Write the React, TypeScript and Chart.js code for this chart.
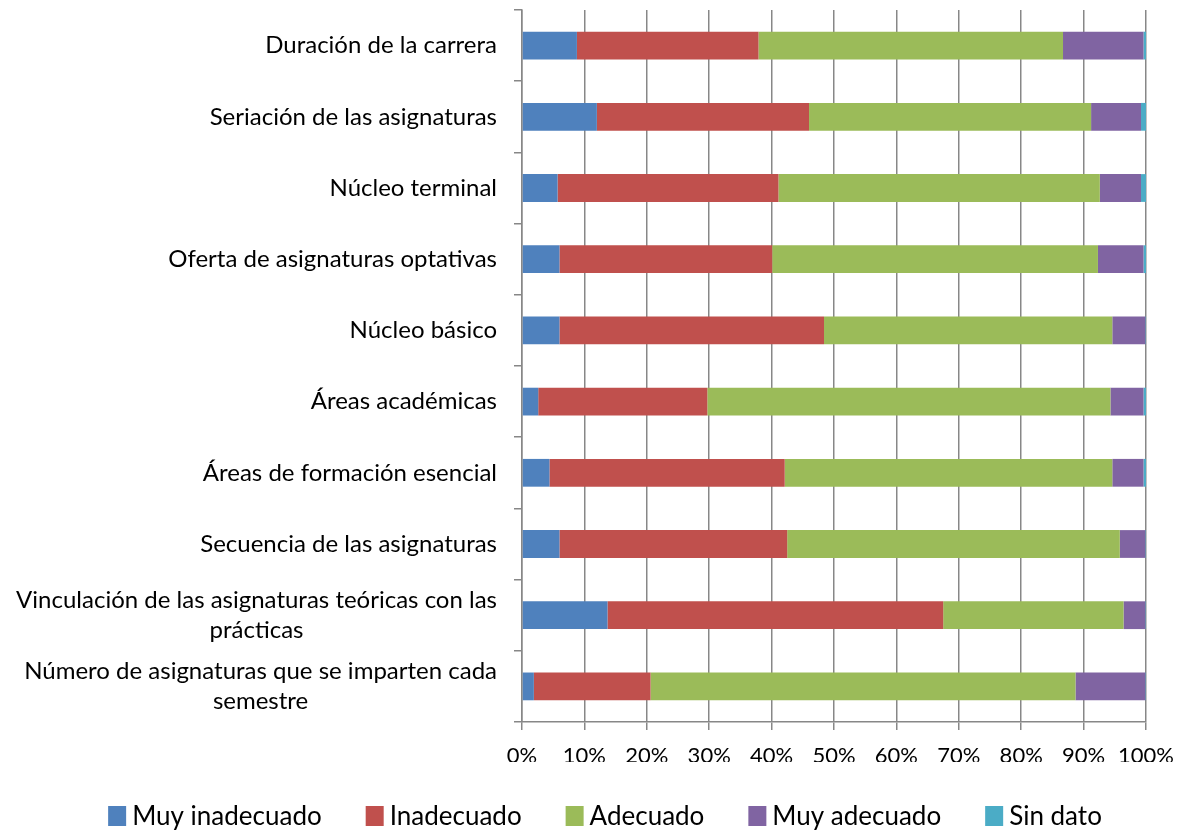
import React, { useEffect, useRef } from "react";
import { Chart, registerables } from "chart.js";

Chart.register(...registerables);

const categories: (string | string[])[] = [
  "Duración de la carrera",
  "Seriación de las asignaturas",
  "Núcleo terminal",
  "Oferta de asignaturas optativas",
  "Núcleo básico",
  "Áreas académicas",
  "Áreas de formación esencial",
  "Secuencia de las asignaturas",
  ["Vinculación de las asignaturas teóricas con las", "prácticas"],
  ["Número de asignaturas que se imparten cada", "semestre"],
];

const seriesNames = ["Muy inadecuado", "Inadecuado", "Adecuado", "Muy adecuado", "Sin dato"];
const seriesColors = ["#4F81BD", "#C0504D", "#9BBB59", "#8064A2", "#4BACC6"];

const muyInadecuado = [8.8, 12.0, 5.7, 6.0, 6.0, 2.6, 4.4, 6.0, 13.7, 1.9];
const inadecuado = [29.1, 34.0, 35.4, 34.1, 42.4, 27.1, 37.7, 36.5, 53.8, 18.7];
const adecuado = [48.8, 45.2, 51.5, 52.2, 46.2, 64.6, 52.5, 53.3, 28.9, 68.1];
const muyAdecuado = [12.9, 8.0, 6.6, 7.3, 5.3, 5.3, 5.0, 4.1, 3.5, 11.2];
const sinDato = [0.4, 0.8, 0.8, 0.4, 0.1, 0.4, 0.4, 0.1, 0.1, 0.1];

const xTicks = [0, 10, 20, 30, 40, 50, 60, 70, 80, 90, 100];

const FONT = "Lato";
const GRID = "#878787";

const yLabelPlugin = {
  id: "yLabelPlugin",
  afterDraw(chart: any) {
    const ctx = chart.ctx;
    const yScale = chart.scales.y;
    const right = chart.chartArea.left - 25;
    ctx.save();
    ctx.font = `24px ${FONT}`;
    ctx.fillStyle = "#000";
    ctx.textBaseline = "middle";
    ctx.textAlign = "center";
    const labels = chart.data.labels as (string | string[])[];
    labels.forEach((lab, i) => {
      const lines = Array.isArray(lab) ? lab : [lab];
      const w = Math.max(...lines.map((l) => ctx.measureText(l).width));
      const cx = right - w / 2;
      const yc = yScale.getPixelForValue(i);
      lines.forEach((l, j) => {
        ctx.fillText(l, cx, yc + (j - (lines.length - 1) / 2) * 30);
      });
    });
    ctx.restore();
  },
};

const legendPlugin = {
  id: "customLegend",
  afterDraw(chart: any) {
    const ctx = chart.ctx;
    ctx.save();
    ctx.font = `26px ${FONT}`;
    ctx.textBaseline = "middle";
    ctx.textAlign = "left";
    const boxW = 18;
    const boxH = 20;
    const gap = 6;
    const itemGap = 44;
    const items = chart.data.datasets.map((ds: any) => ({
      text: ds.label as string,
      color: ds.backgroundColor as string,
      w: boxW + gap + ctx.measureText(ds.label).width,
    }));
    const total = items.reduce((s: number, it: any) => s + it.w, 0) + itemGap * (items.length - 1);
    let x = 605 - total / 2;
    const yc = 816;
    items.forEach((it: any) => {
      ctx.fillStyle = it.color;
      ctx.fillRect(x, yc - boxH / 2, boxW, boxH);
      ctx.fillStyle = "#000";
      ctx.fillText(it.text, x + boxW + gap, yc + 1);
      x += it.w + itemGap;
    });
    ctx.restore();
  },
};

export default function App() {
  const ref = useRef<HTMLCanvasElement>(null);
  useEffect(() => {
    if (!ref.current) return;
    const data = [muyInadecuado, inadecuado, adecuado, muyAdecuado, sinDato];
    const chart = new Chart(ref.current, {
      type: "bar",
      data: {
        labels: categories,
        datasets: data.map((d, i) => ({
          label: seriesNames[i],
          data: d,
          backgroundColor: seriesColors[i],
          borderWidth: 0,
          barPercentage: 0.39,
          categoryPercentage: 1,
        })),
      },
      options: {
        indexAxis: "y",
        animation: false,
        responsive: false,
        devicePixelRatio: 1,
        layout: { padding: { left: 32, top: 10, right: 32, bottom: 69 } },
        plugins: {
          tooltip: { enabled: false },
          legend: { display: false },
        },
        scales: {
          x: {
            stacked: true,
            min: 0,
            max: 100,
            afterBuildTicks: (scale: any) => {
              scale.ticks = xTicks.map((v) => ({ value: v }));
            },
            afterFit: (scale: any) => {
              scale.height = 40;
              scale.paddingLeft = 0;
              scale.paddingRight = 0;
            },
            ticks: {
              callback: (v: any) => v + "%",
              color: "#000",
              font: { family: FONT, size: 22 },
              padding: 13,
              maxRotation: 0,
            },
            grid: { color: GRID, lineWidth: 1.5, tickLength: 8 },
            border: { display: true, color: GRID, width: 1.5 },
          },
          y: {
            stacked: true,
            afterFit: (scale: any) => {
              scale.width = 490;
            },
            ticks: { display: false },
            grid: {
              drawOnChartArea: false,
              drawTicks: true,
              tickLength: 8,
              color: GRID,
              lineWidth: 1.5,
              offset: true,
            },
            border: { display: true, color: GRID, width: 1.5 },
          },
        },
      },
      plugins: [yLabelPlugin, legendPlugin],
    });
    return () => chart.destroy();
  }, []);
  return (
    <div style={{ position: "fixed", left: 0, top: 0, width: 1178, height: 831, background: "#fff" }}>
      <canvas ref={ref} width={1178} height={831} />
    </div>
  );
}
